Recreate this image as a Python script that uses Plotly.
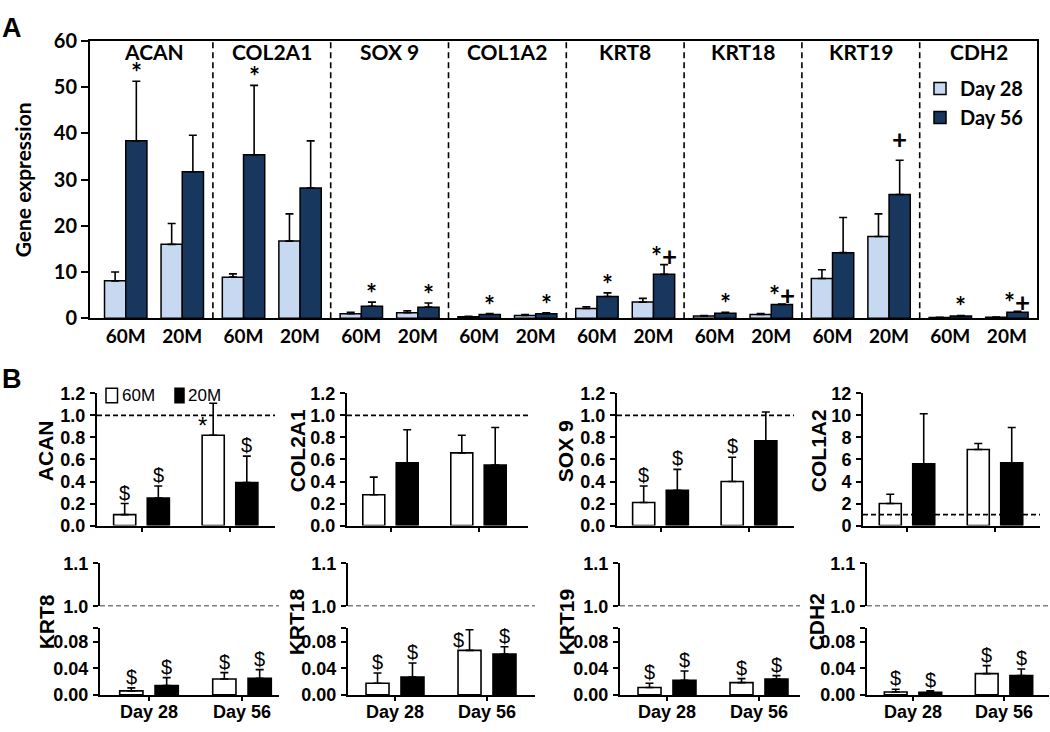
import plotly.graph_objects as go

W, H = 1050, 732

# ---------------- Data: panel A ----------------
genes_A = ["ACAN", "COL2A1", "SOX 9", "COL1A2", "KRT8", "KRT18", "KRT19", "CDH2"]
groups_A = ["60M", "20M"]
# order: gene0-60M, gene0-20M, gene1-60M, ...
day28_mean = [8.1, 16.0, 8.9, 16.7, 1.0, 1.2, 0.3, 0.6, 2.1, 3.5, 0.5, 0.8, 8.6, 17.7, 0.15, 0.2]
day28_err = [1.9, 4.5, 0.7, 5.9, 0.3, 0.4, 0.1, 0.2, 0.4, 0.8, 0.1, 0.2, 1.9, 4.9, 0.05, 0.05]
day56_mean = [38.4, 31.7, 35.4, 28.2, 2.6, 2.4, 0.8, 1.0, 4.7, 9.5, 1.1, 3.0, 14.2, 26.8, 0.5, 1.3]
day56_err = [12.9, 7.9, 15.0, 10.2, 0.9, 0.9, 0.2, 0.2, 0.8, 2.1, 0.2, 0.1, 7.6, 7.4, 0.1, 0.2]
sig_A = ["*", "", "*", "", "*", "*", "*", "*", "*", "*+", "*", "*+", "", "+", "*", "*+"]
yticks_A = [0, 10, 20, 30, 40, 50, 60]

# ---------------- Data: panel B ----------------
days_B = ["Day 28", "Day 56"]
genes_B_top = ["ACAN", "COL2A1", "SOX 9", "COL1A2"]
genes_B_bot = ["KRT8", "KRT18", "KRT19", "CDH2"]
m60_top = [[0.10, 0.82], [0.28, 0.66], [0.21, 0.40], [2.0, 6.9]]
e60_top = [[0.10, 0.29], [0.16, 0.16], [0.15, 0.22], [0.85, 0.55]]
m20_top = [[0.25, 0.39], [0.57, 0.55], [0.32, 0.77], [5.6, 5.7]]
e20_top = [[0.11, 0.24], [0.30, 0.34], [0.19, 0.26], [4.55, 3.2]]
s60_top = [["$", "*"], ["", ""], ["$", "$"], ["", ""]]
s20_top = [["$", "$"], ["", ""], ["$", ""], ["", ""]]
ytop_B = [1.2, 1.2, 1.2, 12]
ydtick_B = [0.2, 0.2, 0.2, 2]
ytickfmt_B = [".1f", ".1f", ".1f", "d"]
ref_line_top = [1.0, 1.0, 1.0, 1.0]

m60_bot = [[0.006, 0.024], [0.0175, 0.067], [0.011, 0.0185], [0.0044, 0.032]]
e60_bot = [[0.0045, 0.0095], [0.0155, 0.031], [0.0065, 0.006], [0.004, 0.012]]
m20_bot = [[0.014, 0.025], [0.027, 0.0615], [0.022, 0.024], [0.004, 0.029]]
e20_bot = [[0.012, 0.013], [0.021, 0.011], [0.014, 0.005], [0.002, 0.010]]
s60_bot = [["$", "$"], ["$", "$"], ["$", "$"], ["$", "$"]]
s20_bot = [["$", "$"], ["$", "$"], ["$", "$"], ["$", "$"]]
lower_ticks = [0, 0.04, 0.08, 0.1]
lower_ticktext = ["0.00", "0.04", "0.08", ""]
upper_ticks = [1.0, 1.1]
upper_ticktext = ["1.0", "1.1"]

# ---------------- Styles ----------------
LIGHT = "#c6d9f0"
DARK = "#17375e"
FA = "Lato"
FB = "Liberation Sans, Arial"

def px_x(p):
    return p / W

def px_y(p):
    return 1 - p / H

fig = go.Figure()
annotations = []
shapes = []

# ---------------- Panel A ----------------
A_C0, A_STEP = 154.0, 117.8
A_L, A_R, A_T, A_B = 90, 1037, 29, 315.6
xA = []
for g in range(len(genes_A)):
    for s in (-1, 1):
        xA.append(g + s * 0.24)
x28 = [v - 0.09 for v in xA]
x56 = [v + 0.09 for v in xA]

fig.add_trace(go.Bar(
    x=x28, y=day28_mean, width=0.18, name="Day 28",
    marker=dict(color=LIGHT, line=dict(color="black", width=1.5)),
    error_y=dict(type="data", symmetric=False, array=day28_err,
                 arrayminus=[0] * len(day28_err), color="black", thickness=1.6, width=4),
    xaxis="x", yaxis="y", legend="legend"))
fig.add_trace(go.Bar(
    x=x56, y=day56_mean, width=0.18, name="Day 56",
    marker=dict(color=DARK, line=dict(color="black", width=1.5)),
    error_y=dict(type="data", symmetric=False, array=day56_err,
                 arrayminus=[0] * len(day56_err), color="black", thickness=1.6, width=4),
    xaxis="x", yaxis="y", legend="legend"))

layout_axes = {}
layout_axes["xaxis"] = dict(
    domain=[px_x(A_L), px_x(A_R)],
    range=[(A_L - A_C0) / A_STEP, (A_R - A_C0) / A_STEP],
    tickvals=xA, ticktext=groups_A * len(genes_A), ticks="",
    tickfont=dict(family=FA, size=19, color="black", weight="bold"),
    showline=True, linewidth=2, linecolor="black", mirror=True,
    showgrid=False, zeroline=False, anchor="y", ticklabelstandoff=0)
layout_axes["yaxis"] = dict(
    domain=[px_y(A_B), px_y(A_T)], range=[0, 60], tickvals=yticks_A,
    ticks="outside", ticklen=7, tickwidth=2, tickcolor="black",
    tickfont=dict(family=FA, size=20, color="black", weight="bold"),
    showline=True, linewidth=2, linecolor="black", mirror=True,
    showgrid=False, zeroline=False, anchor="x")

for g in range(len(genes_A) - 1):
    shapes.append(dict(type="line", xref="x", yref="y domain", x0=g + 0.5, x1=g + 0.5,
                       y0=0, y1=1, line=dict(color="black", width=1.6, dash="6px,4px")))
for g, name in enumerate(genes_A):
    annotations.append(dict(text=name, xref="x", yref="paper", x=g, y=px_y(40),
                            showarrow=False, xanchor="center", yanchor="middle",
                            font=dict(family=FA, size=21, color="black", weight="bold")))
for i, txt in enumerate(sig_A):
    if txt:
        annotations.append(dict(text=txt, xref="x", yref="y", x=x56[i],
                                y=day56_mean[i] + day56_err[i], showarrow=False,
                                xanchor="center", yanchor="bottom",
                                yshift=3 if txt.startswith("+") else -9,
                                font=dict(family=FA, size=26, color="black", weight="bold")))
annotations.append(dict(text="Gene expression", xref="paper", yref="paper",
                        x=px_x(22), y=px_y(173), textangle=-90, showarrow=False,
                        xanchor="center", yanchor="middle",
                        font=dict(family=FA, size=21, color="black", weight="bold")))
annotations.append(dict(text="A", xref="paper", yref="paper", x=px_x(0), y=px_y(-2),
                        xanchor="left", yanchor="top", showarrow=False,
                        font=dict(family="Liberation Sans", size=27, color="black", weight="bold")))
annotations.append(dict(text="B", xref="paper", yref="paper", x=px_x(0), y=px_y(361),
                        xanchor="left", yanchor="top", showarrow=False,
                        font=dict(family="Liberation Sans", size=27, color="black", weight="bold")))

# ---------------- Panel B ----------------
tick_font_B = dict(family=FB, size=18, color="black", weight="bold")
title_font_B = dict(family=FB, size=21, color="black", weight="bold")
mark_font_B = dict(family=FB, size=20, color="black")
star_font_B = dict(family=FB, size=24, color="black")

# columns: axis left px, Day-28 centre px, spacing px, right px, title x px
top_cols = [(97, 141.5, 88.5, 275, 45), (347, 390.5, 88, 528, 297),
            (617, 660.5, 88.5, 794, 565), (863, 907, 88, 1040, 818)]
bot_cols = [(100, 149, 93, 279, 46), (348, 395, 92, 535, 296),
            (620, 667, 92, 800, 566), (867, 913, 91, 1049, 816)]
TOP_Y0, TOP_Y1 = 530, 393.2
LOW_Y0, LOW_Y1 = 705, 636.25
UP_Y0, UP_Y1 = 613.3, 569
OFF, BW = 0.19, 0.25


def add_pair(xa, ya, m60, e60, m20, e20, s60, s20, ytop):
    x60 = [d - OFF for d in range(len(days_B))]
    x20 = [d + OFF for d in range(len(days_B))]
    fig.add_trace(go.Bar(x=x60, y=m60, width=BW, name="60M", showlegend=False,
                         marker=dict(color="white", line=dict(color="black", width=1.6)),
                         error_y=dict(type="data", symmetric=False, array=e60,
                                      arrayminus=[0] * len(e60), color="black", thickness=1.6, width=4),
                         xaxis=xa, yaxis=ya))
    fig.add_trace(go.Bar(x=x20, y=m20, width=BW, name="20M", showlegend=False,
                         marker=dict(color="black", line=dict(color="black", width=1.6)),
                         error_y=dict(type="data", symmetric=False, array=e20,
                                      arrayminus=[0] * len(e20), color="black", thickness=1.6, width=4),
                         xaxis=xa, yaxis=ya))
    for xs, ms, es, ss in ((x60, m60, e60, s60), (x20, m20, e20, s20)):
        for xv, mv, ev, sv in zip(xs, ms, es, ss):
            if not sv:
                continue
            fnt = star_font_B if sv == "*" else mark_font_B
            if mv + ev > 0.88 * ytop:
                annotations.append(dict(text=sv, xref=xa, yref=ya, x=xv, y=mv, showarrow=False,
                                        xanchor="center", yanchor="bottom", xshift=-11,
                                        yshift=-6 if sv == "*" else -3, font=fnt))
            else:
                annotations.append(dict(text=sv, xref=xa, yref=ya, x=xv, y=mv + ev, showarrow=False,
                                        xanchor="center", yanchor="bottom", yshift=-2, font=fnt))


for i in range(4):
    L, T0, S, R, TX = top_cols[i]
    xa, ya = f"x{2 + i}", f"y{2 + i}"
    add_pair(xa, ya, m60_top[i], e60_top[i], m20_top[i], e20_top[i],
             s60_top[i], s20_top[i], ytop_B[i])
    layout_axes[f"xaxis{2 + i}"] = dict(
        domain=[px_x(L), px_x(R)], range=[(L - T0) / S, (R - T0) / S],
        tickvals=[0, 1], showticklabels=False, ticks="outside", ticklen=4, tickwidth=2,
        tickcolor="black", showline=True, linewidth=2, linecolor="black",
        showgrid=False, zeroline=False, anchor=ya)
    layout_axes[f"yaxis{2 + i}"] = dict(
        domain=[px_y(TOP_Y0), px_y(TOP_Y1)], range=[0, ytop_B[i]], dtick=ydtick_B[i],
        tickformat=ytickfmt_B[i], ticks="outside", ticklen=5, tickwidth=2, tickcolor="black",
        tickfont=tick_font_B, showline=True, linewidth=2, linecolor="black",
        showgrid=False, zeroline=False, anchor=xa, ticklabelstandoff=1)
    shapes.append(dict(type="line", xref=f"{xa} domain", x0=0, x1=1, yref=ya,
                       y0=ref_line_top[i], y1=ref_line_top[i],
                       line=dict(color="black", width=1.6, dash="5px,3px")))
    annotations.append(dict(text=genes_B_top[i], xref="paper", yref="paper", x=px_x(TX),
                            y=px_y(453), textangle=-90, showarrow=False,
                            xanchor="center", yanchor="middle", font=title_font_B))

for i in range(4):
    L, T0, S, R, TX = bot_cols[i]
    xa, ya, yu = f"x{6 + i}", f"y{6 + i}", f"y{10 + i}"
    add_pair(xa, ya, m60_bot[i], e60_bot[i], m20_bot[i], e20_bot[i],
             s60_bot[i], s20_bot[i], lower_ticks[-1])
    fig.add_trace(go.Scatter(x=[], y=[], xaxis=xa, yaxis=yu, showlegend=False))
    layout_axes[f"xaxis{6 + i}"] = dict(
        domain=[px_x(L), px_x(R)], range=[(L - T0) / S, (R - T0) / S],
        tickvals=[0, 1], ticktext=days_B, ticks="outside", ticklen=4, tickwidth=2,
        tickcolor="black", tickfont=tick_font_B, showline=True, linewidth=2,
        linecolor="black", showgrid=False, zeroline=False, anchor=ya, ticklabelstandoff=-4)
    layout_axes[f"yaxis{6 + i}"] = dict(
        domain=[px_y(LOW_Y0), px_y(LOW_Y1)], range=[0, lower_ticks[-1]],
        tickvals=lower_ticks, ticktext=lower_ticktext, ticks="outside", ticklen=5,
        tickwidth=2, tickcolor="black", tickfont=tick_font_B, showline=True, linewidth=2,
        linecolor="black", showgrid=False, zeroline=False, anchor=xa, ticklabelstandoff=1)
    layout_axes[f"yaxis{10 + i}"] = dict(
        domain=[px_y(UP_Y0), px_y(UP_Y1)], range=[upper_ticks[0], upper_ticks[-1]],
        tickvals=upper_ticks, ticktext=upper_ticktext, ticks="outside", ticklen=5,
        tickwidth=2, tickcolor="black", tickfont=tick_font_B, showline=True, linewidth=2,
        linecolor="black", showgrid=False, zeroline=False, anchor=xa, ticklabelstandoff=1)
    shapes.append(dict(type="line", xref=f"{xa} domain", x0=0, x1=1, yref=yu,
                       y0=upper_ticks[0], y1=upper_ticks[0],
                       line=dict(color="black", width=1.6, dash="5px,3px")))
    annotations.append(dict(text=genes_B_bot[i], xref="paper", yref="paper", x=px_x(TX),
                            y=px_y(630), textangle=-90, showarrow=False,
                            xanchor="center", yanchor="middle", font=title_font_B))

# legend for panel B (60M / 20M key)
legend_B = [("60M", "white", 106, 117.5, 120), ("20M", "black", 175, 184, 186)]
for lab, col, x0, x1, tx in legend_B:
    shapes.append(dict(type="rect", xref="paper", yref="paper", x0=px_x(x0), x1=px_x(x1),
                       y0=px_y(403), y1=px_y(388), fillcolor=col,
                       line=dict(color="black", width=1.5)))
    annotations.append(dict(text=lab, xref="paper", yref="paper", x=px_x(tx), y=px_y(395),
                            xanchor="left", yanchor="middle", showarrow=False,
                            font=dict(family=FB, size=17, color="black")))

fig.update_layout(
    width=W, height=H, autosize=False,
    margin=dict(l=0, r=0, t=0, b=0),
    paper_bgcolor="white", plot_bgcolor="white",
    barmode="overlay", showlegend=True,
    legend=dict(x=px_x(920), y=px_y(58), xanchor="left", yanchor="top",
                font=dict(family=FA, size=20, color="black", weight="bold"),
                bgcolor="rgba(0,0,0,0)", itemwidth=30, tracegroupgap=0),
    annotations=annotations, shapes=shapes,
    **layout_axes)

fig.write_html("out.html", config={"displayModeBar": False},
               post_script="document.body.style.margin='0px';document.body.style.overflow='hidden';")
